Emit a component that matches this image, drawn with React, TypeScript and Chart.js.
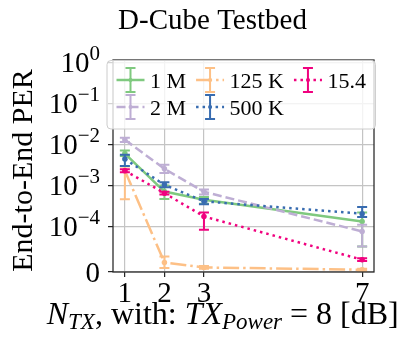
import React, { useEffect, useRef } from 'react';
import { Chart, registerables, Scale } from 'chart.js';

// ---------------- data ----------------
const X_VALUES = [1, 2, 3, 7];
const X_TICKS = [1, 2, 3, 7];
const Y_TICKS = [0, 1e-4, 1e-3, 1e-2, 1e-1, 1];
const Y_TICK_BASES = ['0', '10', '10', '10', '10', '10'];
const Y_TICK_EXPONENTS = ['', '−4', '−3', '−2', '−1', '0'];

const SERIES_LABELS = ['1 M', '2 M', '125 K', '500 K', '15.4'];
const SERIES_COLORS = ['#7fc97f', '#beaed4', '#fdc086', '#386cb0', '#f0027f'];

const PER_1M = [6.0e-3, 7.1e-4, 4.5e-4, 1.32e-4];
const PER_1M_LOW = [5.2e-3, 4.7e-4, 3.6e-4, 5.6e-5];
const PER_1M_HIGH = [7.1e-3, 1.0e-3, 5.2e-4, 2.2e-4];

const PER_2M = [1.3e-2, 2.55e-3, 7.0e-4, 8.9e-5];
const PER_2M_LOW = [1.15e-2, 2.0e-3, 6.0e-4, 5.6e-5];
const PER_2M_HIGH = [1.45e-2, 3.2e-3, 8.0e-4, 1.1e-4];

const PER_125K = [2.3e-3, 2.1e-5, 1.0e-5, 5e-6];
const PER_125K_LOW = [4.6e-4, 9e-6, 7e-6, 3e-6];
const PER_125K_HIGH = [2.9e-3, 3.4e-5, 1.3e-5, 7e-6];

const PER_500K = [4.4e-3, 1.04e-3, 4.1e-4, 2.04e-4];
const PER_500K_LOW = [3.0e-3, 9.0e-4, 3.5e-4, 1.7e-4];
const PER_500K_HIGH = [5.6e-3, 1.2e-3, 4.7e-4, 3.0e-4];

const PER_154 = [2.3e-3, 6.5e-4, 1.75e-4, 2.7e-5];
const PER_154_LOW = [2.1e-3, 6.0e-4, 9.3e-5, 2.4e-5];
const PER_154_HIGH = [2.5e-3, 7.0e-4, 2.2e-4, 3.0e-5];

const SERIES_VALUES = [PER_1M, PER_2M, PER_125K, PER_500K, PER_154];
const SERIES_LOW = [PER_1M_LOW, PER_2M_LOW, PER_125K_LOW, PER_500K_LOW, PER_154_LOW];
const SERIES_HIGH = [PER_1M_HIGH, PER_2M_HIGH, PER_125K_HIGH, PER_500K_HIGH, PER_154_HIGH];

const TITLE = 'D-Cube Testbed';
const Y_TITLE = 'End-to-End PER';

// ---------------- styles ----------------
const FONT = "'Liberation Serif', 'Times New Roman', serif";
const LW = 2.5;
const DASHES: number[][] = [[], [9, 4], [16, 4, 2.5, 4], [2.5, 4], [2.5, 4]];

// ---------------- symlog scale ----------------
const LINTHRESH = 1e-4;
const LINSCALE = 1 / (1 - 1 / 10);
function symlog(v: number) {
  const a = Math.abs(v);
  if (a <= LINTHRESH) return (v / LINTHRESH) * LINSCALE;
  return Math.sign(v) * (LINSCALE + Math.log10(a / LINTHRESH));
}
function invSymlog(t: number) {
  const a = Math.abs(t);
  if (a <= LINSCALE) return (t / LINSCALE) * LINTHRESH;
  return Math.sign(t) * LINTHRESH * Math.pow(10, a - LINSCALE);
}

class SymLogScale extends Scale {
  static id = 'symlog';
  static defaults = {};
  declare _tMin: number;
  declare _tMax: number;
  parse(raw: any) {
    const v = typeof raw === 'number' ? raw : Number(raw);
    return isFinite(v) ? v : null;
  }
  determineDataLimits() {
    const { min, max } = (this as any).getMinMax(false);
    const o: any = this.options;
    (this as any).min = o.min ?? min;
    (this as any).max = o.max ?? max;
  }
  buildTicks() {
    return Y_TICKS.map((v) => ({ value: v }));
  }
  configure() {
    super.configure();
    this._tMin = symlog((this as any).min);
    this._tMax = symlog((this as any).max);
  }
  getPixelForValue(v: number) {
    return this.getPixelForDecimal((symlog(v) - this._tMin) / (this._tMax - this._tMin));
  }
  getValueForPixel(p: number) {
    return invSymlog(this._tMin + this.getDecimalForPixel(p) * (this._tMax - this._tMin));
  }
  getLabelForValue(v: number) {
    return String(v);
  }
}

Chart.register(...registerables, SymLogScale as any);

// ---------------- plugins ----------------
const errorBarPlugin = {
  id: 'errorBars',
  afterDatasetDraw(chart: any, args: any) {
    const ds = chart.data.datasets[args.index];
    if (!ds.errLow) return;
    const ctx = chart.ctx;
    const xs = chart.scales.x;
    const ys = chart.scales.y;
    const ca = chart.chartArea;
    ctx.save();
    ctx.beginPath();
    ctx.rect(ca.left, ca.top - 2, ca.width, ca.height + 4);
    ctx.clip();
    ctx.strokeStyle = ds.borderColor;
    ctx.lineWidth = 2;
    ctx.setLineDash([]);
    ds.data.forEach((p: any, j: number) => {
      const x = xs.getPixelForValue(p.x);
      const yl = ys.getPixelForValue(ds.errLow[j]);
      const yh = ys.getPixelForValue(ds.errHigh[j]);
      ctx.beginPath();
      ctx.moveTo(x, yl);
      ctx.lineTo(x, yh);
      ctx.moveTo(x - 5, yl);
      ctx.lineTo(x + 5, yl);
      ctx.moveTo(x - 5, yh);
      ctx.lineTo(x + 5, yh);
      ctx.stroke();
    });
    ctx.restore();
  },
};

const framePlugin = {
  id: 'frame',
  afterDatasetsDraw(chart: any) {
    const ctx = chart.ctx;
    const ca = chart.chartArea;
    ctx.save();
    ctx.strokeStyle = '#262626';
    ctx.lineWidth = 1.25;
    ctx.strokeRect(ca.left, ca.top, ca.width, ca.height);
    ctx.restore();
  },
};

const axisTextPlugin = {
  id: 'axisText',
  afterDraw(chart: any) {
    const ctx = chart.ctx;
    const ca = chart.chartArea;
    const ys = chart.scales.y;
    ctx.save();
    ctx.fillStyle = '#000';
    ctx.textBaseline = 'alphabetic';
    ctx.textAlign = 'left';
    // y tick labels (mathtext-like 10^n)
    const right = ca.left - 13;
    Y_TICKS.forEach((v, i) => {
      const y = ys.getPixelForValue(v);
      ctx.font = `21px ${FONT}`;
      const ew = Y_TICK_EXPONENTS[i] ? ctx.measureText(Y_TICK_EXPONENTS[i]).width : 0;
      ctx.font = `29px ${FONT}`;
      const bw = ctx.measureText(Y_TICK_BASES[i]).width;
      ctx.fillText(Y_TICK_BASES[i], right - ew - bw, y + 10);
      if (Y_TICK_EXPONENTS[i]) {
        ctx.font = `21px ${FONT}`;
        ctx.fillText(Y_TICK_EXPONENTS[i], right - ew, y - 2);
      }
    });
    // y title
    ctx.save();
    ctx.translate(32, (ca.top + ca.bottom) / 2 + 4.5);
    ctx.rotate(-Math.PI / 2);
    ctx.textAlign = 'center';
    ctx.font = `30px ${FONT}`;
    ctx.fillText(Y_TITLE, 0, 0);
    ctx.restore();
    // x title with sub-scripts
    const parts = [
      { t: 'N', f: `italic 32px ${FONT}`, dy: 0 },
      { t: 'TX', f: `italic 23px ${FONT}`, dy: 5 },
      { t: ', with: ', f: `32px ${FONT}`, dy: 0 },
      { t: 'TX', f: `italic 32px ${FONT}`, dy: 0 },
      { t: 'Power', f: `italic 23px ${FONT}`, dy: 5 },
      { t: ' = 8 [dB]', f: `32px ${FONT}`, dy: 0 },
    ];
    let x = 46.7;
    const base = ca.bottom + 52;
    parts.forEach((p) => {
      ctx.font = p.f;
      ctx.fillText(p.t, x, base + p.dy);
      x += ctx.measureText(p.t).width;
    });
    ctx.restore();
  },
};

const legendPlugin = {
  id: 'customLegend',
  afterDraw(chart: any) {
    const ctx = chart.ctx;
    const ca = chart.chartArea;
    const nRows = 2;
    const nCols = 3;
    const handleLen = 28;
    const textPad = 5.5;
    const colSpace = 10;
    const padX = 9.5;
    const rowH = 27;
    const legendFont = `22px ${FONT}`;
    ctx.save();
    ctx.font = legendFont;
    const colTextW: number[] = [];
    for (let c = 0; c < nCols; c++) {
      let w = 0;
      for (let r = 0; r < nRows; r++) {
        const i = c * nRows + r;
        if (i < SERIES_LABELS.length) w = Math.max(w, ctx.measureText(SERIES_LABELS[i]).width);
      }
      colTextW.push(w);
    }
    const boxLeft = ca.left - 6;
    const boxTop = ca.top + 0.5;
    const colX: number[] = [];
    let x = boxLeft + padX;
    for (let c = 0; c < nCols; c++) {
      colX.push(x);
      x += handleLen + textPad + colTextW[c] + colSpace;
    }
    const boxRight = x - colSpace + padX;
    const boxH = 68.5;
    // box
    ctx.beginPath();
    (ctx as any).roundRect(boxLeft, boxTop, boxRight - boxLeft, boxH, 4);
    ctx.fillStyle = 'rgba(255,255,255,0.8)';
    ctx.fill();
    ctx.strokeStyle = '#cccccc';
    ctx.lineWidth = 1;
    ctx.stroke();
    SERIES_LABELS.forEach((label, i) => {
      const c = Math.floor(i / nRows);
      const r = i % nRows;
      const hx = colX[c];
      const cy = boxTop + 19.5 + r * rowH;
      const color = SERIES_COLORS[i];
      ctx.strokeStyle = color;
      ctx.lineWidth = LW;
      ctx.setLineDash(DASHES[i]);
      ctx.beginPath();
      ctx.moveTo(hx, cy);
      ctx.lineTo(hx + handleLen, cy);
      ctx.stroke();
      ctx.setLineDash([]);
      ctx.lineWidth = 2;
      const mx = hx + handleLen / 2;
      ctx.beginPath();
      ctx.moveTo(mx, cy - 12);
      ctx.lineTo(mx, cy + 12);
      ctx.moveTo(mx - 5, cy - 12);
      ctx.lineTo(mx + 5, cy - 12);
      ctx.moveTo(mx - 5, cy + 12);
      ctx.lineTo(mx + 5, cy + 12);
      ctx.stroke();
      ctx.fillStyle = color;
      ctx.beginPath();
      ctx.arc(mx, cy, 2, 0, Math.PI * 2);
      ctx.fill();
      ctx.fillStyle = '#000';
      ctx.font = legendFont;
      ctx.textBaseline = 'alphabetic';
      ctx.textAlign = 'left';
      ctx.fillText(label, hx + handleLen + textPad, cy + 7.5);
    });
    ctx.restore();
  },
};

// ---------------- component ----------------
export default function App() {
  const ref = useRef<HTMLCanvasElement>(null);
  useEffect(() => {
    if (!ref.current) return;
    const datasets = SERIES_LABELS.map((label, i) => ({
      label,
      data: X_VALUES.map((x, j) => ({ x, y: SERIES_VALUES[i][j] })),
      errLow: SERIES_LOW[i],
      errHigh: SERIES_HIGH[i],
      borderColor: SERIES_COLORS[i],
      backgroundColor: SERIES_COLORS[i],
      borderWidth: LW,
      borderDash: DASHES[i],
      borderCapStyle: 'butt',
      pointRadius: 2.75,
      pointBorderWidth: 0,
      pointBackgroundColor: SERIES_COLORS[i],
      tension: 0,
      fill: false,
      order: SERIES_LABELS.length - i,
    }));
    const chart = new Chart(ref.current, {
      type: 'line',
      data: { datasets } as any,
      options: {
        responsive: false,
        animation: false,
        devicePixelRatio: 1,
        layout: { padding: { left: 51, right: 33, top: 0, bottom: 47 } },
        plugins: {
          legend: { display: false },
          tooltip: { enabled: false },
          title: {
            display: true,
            text: TITLE,
            color: '#000',
            font: { family: FONT, size: 29, weight: 'normal', lineHeight: 1.2 },
            padding: { top: 4, bottom: 21.2 },
          },
        },
        scales: {
          x: {
            type: 'linear',
            min: 0.7,
            max: 7.3,
            afterBuildTicks: (scale: any) => {
              scale.ticks = X_TICKS.map((v) => ({ value: v }));
            },
            afterFit: (scale: any) => {
              scale.height = 40;
            },
            ticks: {
              color: '#000',
              font: { family: FONT, size: 29 },
              padding: 0,
              maxRotation: 0,
              autoSkip: false,
            },
            grid: { color: '#c4c4c4', lineWidth: 1.2, tickColor: '#262626', tickLength: 5, tickWidth: 1.25 },
            border: { display: false },
          },
          y: {
            type: 'symlog' as any,
            min: 0,
            max: 1.15,
            afterFit: (scale: any) => {
              scale.width = 113 - 51;
            },
            ticks: {
              display: false,
              callback: (v: any, i: number) => Y_TICK_BASES[i] + Y_TICK_EXPONENTS[i],
            },
            grid: { color: '#c4c4c4', lineWidth: 1.2, tickColor: '#262626', tickLength: 5, tickWidth: 1.25 },
            border: { display: false },
          } as any,
        },
      },
      plugins: [errorBarPlugin, framePlugin, axisTextPlugin, legendPlugin],
    } as any);
    return () => chart.destroy();
  }, []);
  return (
    <div style={{ position: 'absolute', left: 0, top: 0, width: 407, height: 359 }}>
      <canvas ref={ref} width={407} height={359} style={{ display: 'block' }} />
    </div>
  );
}
